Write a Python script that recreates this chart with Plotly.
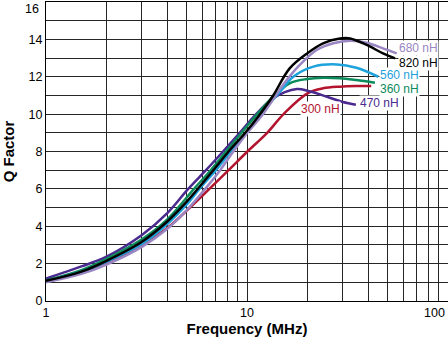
import math
import plotly.graph_objects as go

# Q factor vs frequency for a family of chip inductors
freq_820 = [1, 1.5, 2, 3, 4, 5, 6.8, 8.1, 9.8, 11.6, 13.5, 16.3, 19.9, 23.9, 29, 32.6, 39.4, 47.5, 54.5]
q_820 = [1.08, 1.57, 2.15, 3.17, 4.24, 5.3, 7.0, 8.0, 9.0, 10.0, 11.0, 12.45, 13.25, 13.79, 14.05, 14.05, 13.7, 13.25, 12.98]

freq_680 = [1, 1.5, 2, 3, 4, 5, 6.2, 7.35, 8.55, 10.04, 12.0, 15.1, 18.3, 22.2, 26.9, 32.6, 39.4, 47.5, 55.6]
q_680 = [1.0, 1.45, 1.95, 2.9, 3.85, 4.85, 6.0, 7.0, 8.0, 9.0, 10.0, 11.56, 12.63, 13.43, 13.79, 13.92, 13.82, 13.52, 13.25]

freq_560 = [1, 1.5, 2, 3, 4, 5, 5.8, 7.0, 8.3, 9.95, 11.7, 14.6, 17, 21.4, 28, 35, 45]
q_560 = [1.07, 1.55, 2.1, 3.05, 4.1, 5.15, 6.0, 7.0, 8.0, 9.0, 10.0, 11.2, 12.0, 12.54, 12.66, 12.48, 12.0]

freq_360 = [1, 1.5, 2, 3, 4, 5.45, 6.6, 7.86, 9.4, 11.25, 13.5, 16.3, 19.9, 23.9, 29, 35, 43.3]
q_360 = [1.1, 1.65, 2.25, 3.3, 4.35, 6.0, 7.0, 8.0, 9.0, 10.0, 10.93, 11.65, 11.88, 11.95, 11.92, 11.82, 11.68]

freq_470 = [1, 1.5, 2, 3, 4, 5.1, 6.25, 7.6, 9.2, 11.1, 13.5, 17.7, 20, 25, 30, 34.8]
q_470 = [1.2, 1.85, 2.37, 3.53, 4.69, 6.0, 7.0, 8.0, 9.0, 10.0, 10.85, 11.34, 11.25, 10.93, 10.65, 10.5]

freq_300 = [1, 1.5, 2, 3, 4, 5.2, 6.5, 8.1, 10.05, 12.6, 15.2, 19.9, 23.9, 29, 35, 41.5]
q_300 = [1.1, 1.55, 2.05, 3.0, 3.89, 5.0, 6.0, 7.0, 8.0, 9.0, 10.0, 11.1, 11.38, 11.47, 11.5, 11.5]

# series: name, x, y, colour, label anchor (freq, Q)
series = [
    ("300 nH", freq_300, q_300, "#B3152F", (18.35, 10.27)),
    ("470 nH", freq_470, q_470, "#4A2A8E", (36.2, 10.57)),
    ("360 nH", freq_360, q_360, "#0B8A5B", (45.4, 11.32)),
    ("560 nH", freq_560, q_560, "#1EA2DC", (45.4, 12.07)),
    ("680 nH", freq_680, q_680, "#9A86C2", (56.6, 13.52)),
    ("820 nH", freq_820, q_820, "#000000", (56.6, 12.76)),
]

x_ticks = [1, 2, 3, 4, 5, 6, 7, 8, 9, 10, 20, 30, 40, 50, 60, 70, 80, 90, 100]
x_labels = ["1", "", "", "", "", "", "", "", "", "10", "", "", "", "", "", "", "", "", ""]
y_ticks = list(range(0, 17))
y_labels = [str(v) if (v % 2 == 0 and v < 16) else "" for v in y_ticks]

FONT = "Liberation Sans, Arial, Helvetica, sans-serif"

fig = go.Figure()
annotations = []
for name, fx, qy, color, (lx, ly) in series:
    fig.add_trace(go.Scatter(
        x=fx, y=qy, mode="lines", name=name,
        line=dict(color=color, width=2.5, shape="spline", smoothing=1.0),
        showlegend=False, hoverinfo="skip",
    ))
    # annotation x on a log axis is given in log10 units
    annotations.append(dict(
        x=math.log10(lx), y=ly, xref="x", yref="y", text=name, showarrow=False,
        xanchor="left", yanchor="middle", bgcolor="white", borderpad=0,
        font=dict(family=FONT, size=12, color=color),
    ))

# the "100" decade label sits against the right edge
annotations.append(dict(
    x=1, y=0, xref="paper", yref="paper", text="100", showarrow=False,
    xanchor="right", yanchor="top", yshift=-3, xshift=-1,
    font=dict(family=FONT, size=12.5, color="black"),
))
# the "16" label sits just under the top edge
annotations.append(dict(
    x=0, y=1, xref="paper", yref="paper", text="16", showarrow=False,
    xanchor="right", yanchor="top", xshift=-5, yshift=2,
    font=dict(family=FONT, size=12.5, color="black"),
))

fig.update_layout(
    width=448, height=342,
    margin=dict(l=46, r=0, t=2, b=41),
    paper_bgcolor="white", plot_bgcolor="white",
    font=dict(family=FONT, size=12.5, color="black"),
    annotations=annotations,
)
fig.update_xaxes(
    type="log", range=[0, 2],
    tickvals=x_ticks, ticktext=x_labels, ticks="",
    showgrid=True, gridcolor="#262626", gridwidth=1,
    showline=True, linecolor="black", linewidth=1, mirror=True,
    zeroline=False, automargin=False,
    title=dict(text="<b>Frequency (MHz)</b>", font=dict(family=FONT, size=15), standoff=4),
)
fig.update_yaxes(
    range=[0, 16],
    tickvals=y_ticks, ticktext=y_labels, ticks="",
    showgrid=True, gridcolor="#262626", gridwidth=1,
    showline=True, linecolor="black", linewidth=1, mirror=True,
    zeroline=False, automargin=False,
    title=dict(text="<b>Q Factor</b>", font=dict(family=FONT, size=15), standoff=12),
)

fig.write_html("out.html")
